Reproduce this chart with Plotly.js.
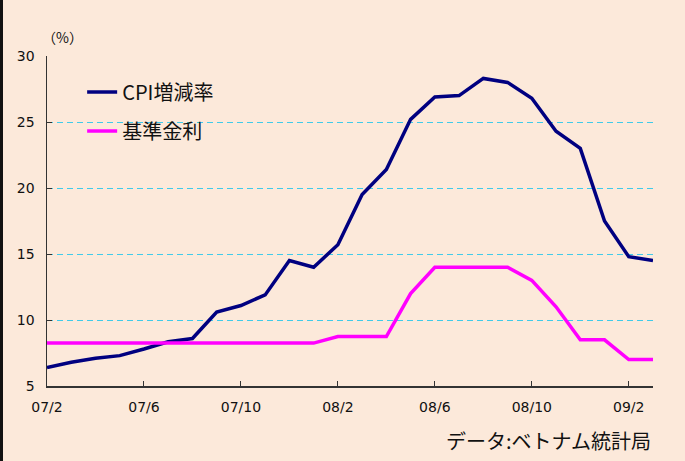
<!DOCTYPE html>
<html>
<head>
<meta charset="utf-8">
<script src="https://cdn.plot.ly/plotly-3.0.1.min.js"></script>
<style>
html,body{margin:0;padding:0;background:#FCE9DA;}
#wrap{position:relative;width:685px;height:461px;}
#chart{width:685px;height:461px;}
#bar{position:absolute;left:0;top:0;width:3px;height:461px;background:#111;}
</style>
</head>
<body>
<div id="wrap"><div id="chart"></div><div id="bar"></div></div>
<script>
// Months (2007/02 – 2009/03)
const months = ["07/2","07/3","07/4","07/5","07/6","07/7","07/8","07/9","07/10","07/11","07/12",
  "08/1","08/2","08/3","08/4","08/5","08/6","08/7","08/8","08/9","08/10","08/11","08/12",
  "09/1","09/2","09/3"];
// CPI year-on-year change (%)
const cpi = [6.4,6.8,7.1,7.3,7.8,8.35,8.6,10.6,11.1,11.9,14.5,
  14.0,15.7,19.5,21.4,25.2,26.9,27.0,28.3,28.0,26.8,24.3,23.0,
  17.5,14.8,14.5];
// Base interest rate (%)
const baseRate = [8.25,8.25,8.25,8.25,8.25,8.25,8.25,8.25,8.25,8.25,8.25,
  8.25,8.75,8.75,8.75,12,14,14,14,14,13,11,8.5,
  8.5,7,7];
const tickMonths = ["07/2","07/6","07/10","08/2","08/6","08/10","09/2"];
const seriesNames = ["CPI増減率","基準金利"];

const bg = "#FCE9DA";
const fontNum = "'DejaVu Sans', 'Noto Sans CJK JP', sans-serif";
const fontJP = "'Noto Sans CJK JP', sans-serif";

const traces = [
  {x: months, y: cpi, name: seriesNames[0], type: "scatter", mode: "lines",
   line: {color: "#000080", width: 3.5}, legendgroup: "a"},
  {x: months, y: baseRate, name: seriesNames[1], type: "scatter", mode: "lines",
   line: {color: "#FF00FF", width: 3.5}, legendgroup: "b"}
];

const layout = {
  width: 685, height: 461,
  paper_bgcolor: bg, plot_bgcolor: bg,
  margin: {l: 47, r: 32, t: 56, b: 75},
  font: {family: fontNum, color: "#111", size: 14},
  showlegend: true,
  legend: {x: 0.058, y: 0.95, xanchor: "left", yanchor: "top",
    bgcolor: "rgba(0,0,0,0)", font: {family: fontJP, size: 20, color: "#111"},
    tracegroupgap: 10, traceorder: "grouped", itemwidth: 30},
  xaxis: {type: "category", categoryorder: "array", categoryarray: months,
    range: [0, 25], tickmode: "array", tickvals: tickMonths, ticktext: tickMonths,
    showgrid: false, showline: true, linecolor: "#333", linewidth: 1.5,
    ticks: "inside", ticklen: 5, tickcolor: "#333",
    tickfont: {family: fontNum, size: 14, color: "#111"}, ticklabelstandoff: 8, zeroline: false},
  yaxis: {range: [5, 30], dtick: 5, tick0: 5,
    showgrid: true, gridcolor: "#3FCBEA", gridwidth: 1, griddash: "6px,4px",
    showline: true, linecolor: "#333", linewidth: 1.5,
    ticks: "inside", ticklen: 5, tickcolor: "#333",
    tickfont: {family: fontNum, size: 14, color: "#111"}, ticklabelstandoff: 8, zeroline: false},
  shapes: [
    {type: "rect", xref: "paper", yref: "y", x0: 0.003, x1: 0.343, y0: 24.6, y1: 25.4,
     fillcolor: bg, line: {width: 0}, layer: "below"}
  ],
  annotations: [
    {text: "（%）", xref: "paper", yref: "paper", x: -0.012, y: 1.02, xanchor: "left", yanchor: "bottom",
     showarrow: false, font: {family: fontJP, size: 14, color: "#111"}},
    {text: "データ:ベトナム統計局", xref: "paper", yref: "paper", x: 1.0, y: -0.115, xanchor: "right", yanchor: "top",
     showarrow: false, font: {family: fontJP, size: 20, color: "#111"}}
  ]
};

Plotly.newPlot("chart", traces, layout, {displayModeBar: false, staticPlot: true});
</script>
</body>
</html>
